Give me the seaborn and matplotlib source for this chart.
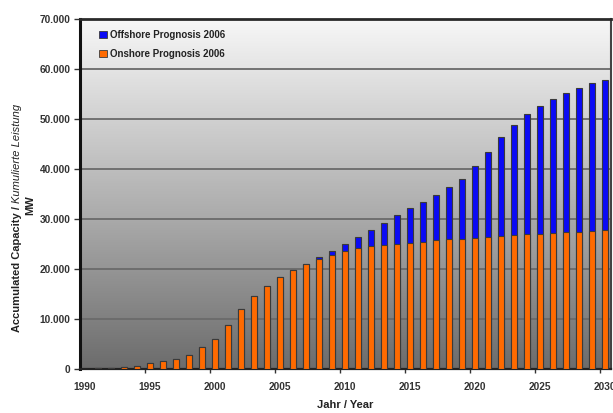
import numpy as np
import pandas as pd
import matplotlib
matplotlib.use("Agg")
import matplotlib.pyplot as plt
from matplotlib.patches import Patch
from matplotlib.ticker import FuncFormatter, MultipleLocator
import seaborn as sns

# Accumulated installed wind capacity in Germany (MW), prognosis 2006
years = list(range(1990, 2031))
onshore = [60, 110, 180, 330, 620, 1120, 1550, 2080, 2880, 4440,
           6100, 8750, 12000, 14700, 16700, 18400, 19800, 21000, 22000, 22900,
           23700, 24200, 24600, 24900, 25100, 25300, 25500, 25800, 26000, 26100,
           26300, 26500, 26700, 26900, 27000, 27100, 27300, 27400, 27500, 27700,
           27800]
offshore = [0, 0, 0, 0, 0, 0, 0, 0, 0, 0,
            0, 0, 0, 0, 0, 0, 0, 0, 500, 800,
            1400, 2200, 3200, 4400, 5700, 7000, 8000, 9100, 10500, 12000,
            14400, 16900, 19700, 22000, 24100, 25500, 26700, 27900, 28800, 29500,
            30100]
legend_labels = ["Offshore Prognosis 2006", "Onshore Prognosis 2006"]
y_ticks = [0, 10000, 20000, 30000, 40000, 50000, 60000, 70000]
x_ticks = [1990, 1995, 2000, 2005, 2010, 2015, 2020, 2025, 2030]

df = pd.DataFrame({"year": years, "onshore": onshore, "offshore": offshore})
df["total"] = df["onshore"] + df["offshore"]

sns.set_theme(style="white")
plt.rcParams["font.family"] = ["Liberation Sans", "DejaVu Sans"]

BLUE = "#0a0af5"
ORANGE = "#ff6a00"
EDGE = "#3a3a3a"

fig = plt.figure(figsize=(6.13, 4.13), dpi=100)
fig.patch.set_facecolor("white")
ax = fig.add_axes([80 / 613, 1 - 369 / 413, 531 / 613, 350 / 413])

# vertical grey gradient behind the bars
grad = np.linspace(0, 1, 256).reshape(-1, 1)
cmap = matplotlib.colors.LinearSegmentedColormap.from_list(
    "bg", ["#6c6c6c", "#b4b4b4", "#f7f7f7"])
ax.imshow(grad, cmap=cmap, aspect="auto", origin="lower",
          extent=(0, 1, 0, 1), transform=ax.transAxes, zorder=0)

# stacked bars: total (offshore on top) first, onshore over it
sns.barplot(data=df, x="year", y="total", native_scale=True, width=0.42,
            color=BLUE, saturation=1, edgecolor=EDGE, linewidth=0.8, ax=ax,
            zorder=2)
sns.barplot(data=df, x="year", y="onshore", native_scale=True, width=0.42,
            color=ORANGE, saturation=1, edgecolor=EDGE, linewidth=0.8, ax=ax,
            zorder=3)

ax.set_xlim(1989.62, 2030.46)
ax.set_ylim(0, 70000)

ax.set_yticks(y_ticks)
ax.yaxis.set_major_formatter(FuncFormatter(lambda v, p: f"{int(v):,}".replace(",", ".")))
ax.set_xticks(x_ticks)
ax.set_xticklabels([str(t) for t in x_ticks])
ax.xaxis.set_minor_locator(matplotlib.ticker.FixedLocator([t - 0.4 for t in x_ticks]))

ax.tick_params(axis="x", which="major", length=0, pad=9, labelsize=7.3,
               labelcolor="#333333")
ax.tick_params(axis="x", which="minor", length=3, width=1, color="#333333",
               bottom=True)
ax.tick_params(axis="y", which="major", length=4, width=1, color="#333333",
               left=True, pad=3, labelsize=7.3, labelcolor="#333333")
for lbl in ax.get_xticklabels() + ax.get_yticklabels():
    lbl.set_fontweight("bold")

ax.yaxis.grid(True, color="#6a6a6a", linewidth=1.3, zorder=1)
ax.xaxis.grid(False)
ax.set_axisbelow(True)

for side, lw, col in [("left", 2.2, "#111111"), ("bottom", 1.6, "#222222"),
                      ("top", 2.0, "#2a2a2a"), ("right", 1.5, "#444444")]:
    ax.spines[side].set_visible(True)
    ax.spines[side].set_linewidth(lw)
    ax.spines[side].set_color(col)

ax.set_xlabel("Jahr / Year", fontsize=8, fontweight="bold", color="#222222",
              labelpad=6)
ax.set_ylabel("")

# legend in upper left corner, no frame
handles = [Patch(facecolor=BLUE, edgecolor=EDGE, linewidth=0.6),
           Patch(facecolor=ORANGE, edgecolor=EDGE, linewidth=0.6)]
leg = ax.legend(handles, legend_labels, loc="upper left",
                bbox_to_anchor=(0.02, 0.995), frameon=False,
                handlelength=0.75, handleheight=0.75, handletextpad=0.3,
                labelspacing=0.95,
                prop={"size": 7, "weight": "bold"})
for t in leg.get_texts():
    t.set_color("#222222")

# two-part y-axis title (bold + italic) and unit line
fig.canvas.draw()
t1 = fig.text(17 / 613, 1 - 332 / 413, "Accumulated Capacity / ",
              rotation=90, fontsize=8, fontweight="bold", color="#222222",
              ha="center", va="bottom")
fig.canvas.draw()
bb = t1.get_window_extent()
fig.text(17 / 613, bb.y1 / fig.bbox.height, "Kumulierte Leistung",
         rotation=90, fontsize=8, fontstyle="italic", color="#222222",
         ha="center", va="bottom")
fig.text(30 / 613, 1 - 205 / 413, "MW", rotation=90, fontsize=8,
         fontweight="bold", color="#222222", ha="center", va="center")

fig.savefig("out.png", dpi=100, facecolor="white")
